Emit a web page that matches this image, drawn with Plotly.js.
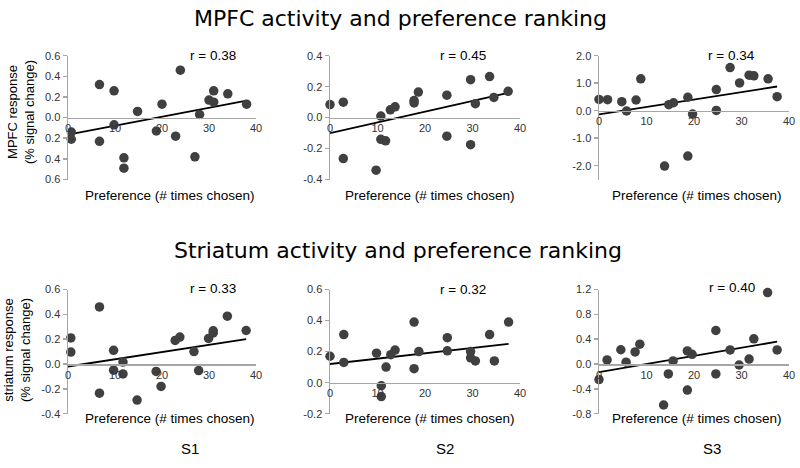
<!DOCTYPE html>
<html>
<head>
<meta charset="utf-8">
<script src="https://cdn.plot.ly/plotly-3.0.1.min.js"></script>
<style>html,body{margin:0;padding:0;background:#fff;}#chart{width:800px;height:468px;}</style>
</head>
<body>
<div id="chart"></div>
<script>
// ---------- data ----------
const xTickVals = [0, 10, 20, 30, 40];
const xTickText = ["0", "10", "20", "30", "40"];

// MPFC, S1
const mpfcS1X = [0.7, 0.7, 6.7, 6.7, 9.8, 9.8, 11.9, 11.9, 14.8, 18.8, 20, 22.9, 23.9, 27, 28, 30, 31, 31, 34, 38];
const mpfcS1Y = [-0.14, -0.21, 0.32, -0.23, 0.26, -0.07, -0.39, -0.49, 0.06, -0.13, 0.13, -0.18, 0.46, -0.38, 0.03, 0.17, 0.26, 0.15, 0.23, 0.13];
const mpfcS1TrendX = [0, 38];
const mpfcS1TrendY = [-0.165, 0.165];
// MPFC, S2
const mpfcS2X = [0, 2.8, 2.8, 9.7, 10.7, 10.7, 11.7, 12.7, 13.7, 17.7, 17.7, 18.6, 24.6, 24.6, 29.6, 29.6, 30.6, 33.6, 34.5, 37.5];
const mpfcS2Y = [0.084, 0.10, -0.265, -0.34, 0.01, -0.14, -0.15, 0.05, 0.07, 0.11, 0.095, 0.165, 0.145, -0.12, 0.245, -0.175, 0.09, 0.265, 0.13, 0.17];
const mpfcS2TrendX = [0, 37.5];
const mpfcS2TrendY = [-0.10, 0.16];
// MPFC, S3
const mpfcS3X = [0, 1.8, 4.8, 5.8, 7.8, 8.8, 13.8, 14.7, 15.7, 18.7, 18.7, 19.7, 24.7, 24.7, 27.6, 29.6, 31.6, 32.6, 35.6, 37.5];
const mpfcS3Y = [0.41, 0.40, 0.33, -0.01, 0.39, 1.16, -2.01, 0.22, 0.29, 0.49, -1.65, -0.12, 0.77, 0.01, 1.57, 1.01, 1.29, 1.27, 1.16, 0.51];
const mpfcS3TrendX = [0, 37.5];
const mpfcS3TrendY = [-0.13, 0.88];
// Striatum, S1
const strS1X = [0.6, 0.6, 6.7, 6.7, 9.7, 9.7, 11.7, 11.7, 14.7, 18.75, 19.8, 22.8, 23.8, 26.8, 27.8, 29.9, 30.9, 30.9, 33.9, 37.9];
const strS1Y = [0.21, 0.096, 0.46, -0.235, 0.11, -0.05, 0.016, -0.08, -0.29, -0.06, -0.18, 0.19, 0.217, 0.10, -0.053, 0.206, 0.267, 0.25, 0.385, 0.27];
const strS1TrendX = [0, 37.9];
const strS1TrendY = [-0.02, 0.20];
// Striatum, S2
const strS2X = [0, 2.9, 2.9, 9.8, 10.8, 10.8, 11.8, 12.8, 13.7, 17.7, 17.7, 18.7, 24.7, 24.7, 29.6, 29.6, 30.6, 33.6, 34.6, 37.6];
const strS2Y = [0.17, 0.31, 0.13, 0.19, -0.02, -0.09, 0.10, 0.18, 0.21, 0.39, 0.09, 0.20, 0.29, 0.205, 0.20, 0.16, 0.14, 0.31, 0.14, 0.39];
const strS2TrendX = [0, 37.6];
const strS2TrendY = [0.12, 0.25];
// Striatum, S3
const strS3X = [0, 1.7, 4.6, 5.7, 7.6, 8.6, 13.6, 14.6, 15.6, 18.6, 18.6, 19.6, 24.6, 24.6, 27.6, 29.5, 31.6, 32.6, 35.5, 37.5];
const strS3Y = [-0.25, 0.065, 0.23, 0.03, 0.195, 0.32, -0.66, -0.16, 0.05, 0.21, -0.42, 0.157, 0.54, -0.16, 0.227, -0.016, 0.08, 0.405, 1.15, 0.227];
const strS3TrendX = [0, 37.5];
const strS3TrendY = [-0.13, 0.36];

// y tick labels (as printed in the figure)
const yTicks1Vals = [-0.6, -0.4, -0.2, 0, 0.2, 0.4, 0.6];
const yTicks1Text = ["0.6", "0.4", "0.2", "0.0", "0.2", "0.4", "0.6"];
const yTicks2Vals = [-0.4, -0.2, 0, 0.2, 0.4];
const yTicks2Text = ["-0.4", "-0.2", "0.0", "0.2", "0.4"];
const yTicks3Vals = [-2, -1, 0, 1, 2];
const yTicks3Text = ["-2.0", "-1.0", "0.0", "1.0", "2.0"];
const yTicks4Vals = [-0.4, -0.2, 0, 0.2, 0.4, 0.6];
const yTicks4Text = ["-0.4", "-0.2", "0.0", "0.2", "0.4", "0.6"];
const yTicks5Vals = [-0.2, 0, 0.2, 0.4, 0.6];
const yTicks5Text = ["-0.2", "0.0", "0.2", "0.4", "0.6"];
const yTicks6Vals = [-0.8, -0.4, 0, 0.4, 0.8, 1.2];
const yTicks6Text = ["-0.8", "-0.4", "0.0", "0.4", "0.8", "1.2"];

const rLabels = ["r = 0.38", "r = 0.45", "r = 0.34", "r = 0.33", "r = 0.32", "r = 0.40"];
const subjectLabels = ["S1", "S2", "S3"];
const mainTitles = ["MPFC activity and preference ranking", "Striatum activity and preference ranking"];
const yTitles = ["MPFC response<br>(% signal change)", "striatum response<br>(% signal change)"];
const xTitle = "Preference (# times chosen)";

// ---------- layout helpers ----------
const W = 800, H = 468;
const AX = "#a6a6a6";
const tickFont = {family: "Liberation Sans, Arial, sans-serif", size: 11, color: "#333"};
const colDom = [[68 / W, 256 / W], [330 / W, 520 / W], [599 / W, 789 / W]];
const rowDom = [[1 - 179.5 / H, 1 - 55.7 / H], [1 - 413.7 / H, 1 - 289.5 / H]];
const yRanges = [[-0.6, 0.6], [-0.4, 0.4], [-2.5, 2.0], [-0.4, 0.6], [-0.2, 0.6], [-0.8, 1.2]];
const yTV = [yTicks1Vals, yTicks2Vals, yTicks3Vals, yTicks4Vals, yTicks5Vals, yTicks6Vals];
const yTT = [yTicks1Text, yTicks2Text, yTicks3Text, yTicks4Text, yTicks5Text, yTicks6Text];
const panels = [
  [mpfcS1X, mpfcS1Y, mpfcS1TrendX, mpfcS1TrendY],
  [mpfcS2X, mpfcS2Y, mpfcS2TrendX, mpfcS2TrendY],
  [mpfcS3X, mpfcS3Y, mpfcS3TrendX, mpfcS3TrendY],
  [strS1X, strS1Y, strS1TrendX, strS1TrendY],
  [strS2X, strS2Y, strS2TrendX, strS2TrendY],
  [strS3X, strS3Y, strS3TrendX, strS3TrendY]
];
const rPos = [[30.9, 0.6, 0], [28, 0.4, 0], [27.9, 2.0, 0], [30.9, 0.6, 1], [28, 0.6, 0], [27.9, 1.2, 2]];
const xTitleCenters = [170, 430, 697];
const xTitleY = [195, 418];

const traces = [];
const layout = {
  width: W, height: H,
  margin: {l: 0, r: 0, t: 0, b: 0},
  paper_bgcolor: "#fff", plot_bgcolor: "rgba(0,0,0,0)",
  showlegend: false,
  annotations: []
};

panels.forEach((p, i) => {
  const n = i + 1;
  const xa = n === 1 ? "x" : "x" + n;
  const ya = n === 1 ? "y" : "y" + n;
  const row = i < 3 ? 0 : 1, col = i % 3;
  traces.push({x: p[2], y: p[3], xaxis: xa, yaxis: ya, type: "scatter", mode: "lines",
    line: {color: "#000", width: 1.8}, hoverinfo: "skip", cliponaxis: false});
  traces.push({x: p[0], y: p[1], xaxis: xa, yaxis: ya, type: "scatter", mode: "markers",
    marker: {color: "#404040", size: 9.5}, cliponaxis: false});
  const yr = yRanges[i];
  const dom = rowDom[row];
  const zeroPos = dom[0] + (0 - yr[0]) / (yr[1] - yr[0]) * (dom[1] - dom[0]);
  layout["xaxis" + (n === 1 ? "" : n)] = {
    domain: colDom[col], range: [0, 40], anchor: "free", position: zeroPos,
    showline: true, linecolor: AX, linewidth: 1.5, showgrid: false, zeroline: false,
    tickmode: "array", tickvals: xTickVals, ticktext: xTickText, ticks: "", tickfont: tickFont
  };
  layout["yaxis" + (n === 1 ? "" : n)] = {
    domain: dom, range: yr, anchor: xa,
    showline: true, linecolor: AX, linewidth: 1.5, showgrid: false, zeroline: false,
    tickmode: "array", tickvals: yTV[i], ticktext: yTT[i], ticks: "outside", ticklen: 4,
    tickcolor: AX, tickwidth: 1.5, tickfont: tickFont
  };
  layout.annotations.push({xref: xa, yref: ya, x: rPos[i][0], y: rPos[i][1], yshift: rPos[i][2], text: rLabels[i],
    showarrow: false, xanchor: "center", yanchor: "middle",
    font: {family: "Liberation Sans, Arial, sans-serif", size: 13.5, color: "#000"}});
  layout.annotations.push({xref: "paper", yref: "paper", x: xTitleCenters[col] / W, y: 1 - xTitleY[row] / H,
    text: xTitle, showarrow: false, xanchor: "center", yanchor: "middle",
    font: {family: "Liberation Sans, Arial, sans-serif", size: 13.5, color: "#000"}});
});

// main titles
[[400, 19], [398, 250]].forEach((c, k) => {
  layout.annotations.push({xref: "paper", yref: "paper", x: c[0] / W, y: 1 - c[1] / H, text: mainTitles[k],
    showarrow: false, xanchor: "center", yanchor: "middle",
    font: {family: "DejaVu Sans, sans-serif", size: 22, color: "#000"}});
});
// y titles
[[21, 112], [17, 350]].forEach((c, k) => {
  layout.annotations.push({xref: "paper", yref: "paper", x: c[0] / W, y: 1 - c[1] / H, text: yTitles[k],
    showarrow: false, xanchor: "center", yanchor: "middle", textangle: -90,
    font: {family: "Liberation Sans, Arial, sans-serif", size: 13, color: "#000"}});
});
// subject labels
[[190, 448], [445, 448], [712, 448]].forEach((c, k) => {
  layout.annotations.push({xref: "paper", yref: "paper", x: c[0] / W, y: 1 - c[1] / H, text: subjectLabels[k],
    showarrow: false, xanchor: "center", yanchor: "middle",
    font: {family: "Liberation Sans, Arial, sans-serif", size: 15, color: "#000"}});
});

Plotly.newPlot("chart", traces, layout, {staticPlot: true, displayModeBar: false});
</script>
</body>
</html>
